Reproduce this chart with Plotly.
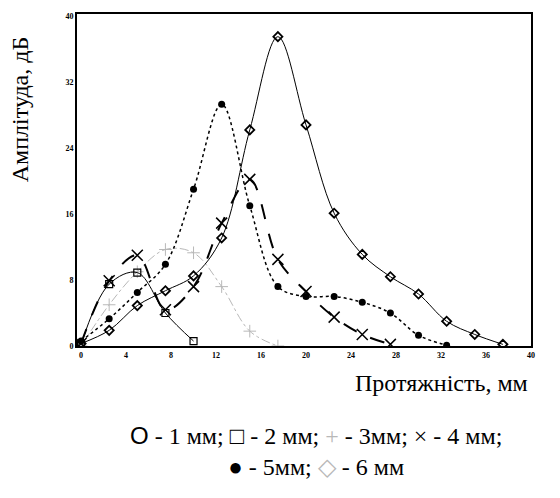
import plotly.graph_objects as go

# ---- data ----
x_6mm = [0, 2.5, 5, 7.5, 10, 12.5, 15, 17.5, 20, 22.5, 25, 27.5, 30, 32.5, 35, 37.5]
y_6mm = [0.3, 1.9, 4.9, 6.7, 8.5, 13.1, 26.2, 37.5, 26.8, 16.1, 11.1, 8.4, 6.3, 3.0, 1.4, 0.2]

x_5mm = [0, 2.5, 5, 7.5, 10, 12.5, 15, 17.5, 20, 22.5, 25, 27.5, 30, 32.5]
y_5mm = [0.6, 3.3, 6.5, 9.9, 19.0, 29.3, 17.0, 7.2, 6.0, 6.0, 5.3, 4.0, 1.3, 0.1]

x_4mm = [0, 2.5, 5, 7.5, 10, 12.5, 15, 17.5, 20, 22.5, 25, 27.5]
y_4mm = [0.3, 7.9, 11.0, 4.4, 7.2, 14.9, 20.2, 10.5, 6.6, 3.5, 1.4, 0.2]

x_3mm = [0, 2.5, 5, 7.5, 10, 12.5, 15, 17.5]
y_3mm = [0.0, 5.0, 9.0, 11.7, 11.3, 7.2, 1.8, 0.0]

x_2mm = [0, 2.5, 5, 7.5, 10]
y_2mm = [0.2, 7.5, 8.9, 4.0, 0.6]

x_ticks = [0, 4, 8, 12, 16, 20, 24, 28, 32, 36, 40]
y_ticks = [0, 8, 16, 24, 32, 40]

fig = go.Figure()

fig.add_trace(go.Scatter(
    x=x_3mm, y=y_3mm, name="3 мм", mode="lines+markers", line_shape="spline",
    line=dict(color="#b8b8b8", width=1, dash="dashdot"),
    marker=dict(symbol="cross-thin-open", size=9, color="#b8b8b8", line=dict(width=1, color="#b8b8b8"))))

fig.add_trace(go.Scatter(
    x=x_2mm, y=y_2mm, name="2 мм", mode="lines+markers", line_shape="spline",
    line=dict(color="black", width=1),
    marker=dict(symbol="square-open", size=7, color="black", line=dict(width=1.2))))

fig.add_trace(go.Scatter(
    x=x_6mm, y=y_6mm, name="6 мм", mode="lines+markers", line_shape="spline",
    line=dict(color="black", width=1),
    marker=dict(symbol="diamond-open", size=7, color="black", line=dict(width=1.8))))

fig.add_trace(go.Scatter(
    x=x_5mm, y=y_5mm, name="5 мм", mode="lines+markers", line_shape="spline",
    line=dict(color="black", width=1.5, dash="dot"),
    marker=dict(symbol="circle", size=7, color="black")))

fig.add_trace(go.Scatter(
    x=x_4mm, y=y_4mm, name="4 мм", mode="lines+markers", line_shape="spline",
    line=dict(color="black", width=2, dash="longdash"),
    marker=dict(symbol="x-thin-open", size=11, color="black", line=dict(width=1.5, color="black"))))

serif = "Liberation Serif, Times New Roman, serif"

legend_text = (
    "<span style='font-family:Liberation Sans'>O</span> - 1 мм; "
    "□ - 2 мм; "
    "<span style='color:#b8b8b8'>+</span> - 3мм; "
    "× - 4 мм;"
    "<br>"
    "● - 5мм; "
    "<span style='color:#b8b8b8'>◇</span> - 6 мм"
)

fig.update_layout(
    width=560, height=498,
    margin=dict(l=69, r=37, t=4, b=160),
    paper_bgcolor="white", plot_bgcolor="white",
    showlegend=False,
    xaxis=dict(range=[-0.36, 40], tickvals=x_ticks, ticktext=["<b>%d</b>" % v for v in x_ticks],
               showgrid=False, zeroline=False, showline=True, linecolor="black", linewidth=2,
               mirror=True, ticks="", tickfont=dict(family=serif, size=8, color="black")),
    yaxis=dict(range=[0, 40.25], tickvals=y_ticks, ticktext=["<b>%d</b>" % v for v in y_ticks],
               showgrid=False, zeroline=False, showline=True, linecolor="black", linewidth=2,
               mirror=True, ticks="", tickfont=dict(family=serif, size=8, color="black")),
    annotations=[
        dict(text="Амплітуда, дБ", xref="paper", yref="paper", x=-0.1256, y=0.713,
             textangle=-90, showarrow=False, font=dict(family=serif, size=24, color="black"),
             xanchor="center", yanchor="middle"),
        dict(text="Протяжність, мм", xref="paper", yref="paper", x=0.998, y=-0.111,
             showarrow=False, font=dict(family=serif, size=24, color="black"),
             xanchor="right", yanchor="middle"),
        dict(text=legend_text, xref="paper", yref="paper", x=0.527, y=-0.317,
             showarrow=False, align="center",
             font=dict(family=serif, size=24, color="black"), xanchor="center", yanchor="middle"),
    ],
)

fig.write_html("out.html")
